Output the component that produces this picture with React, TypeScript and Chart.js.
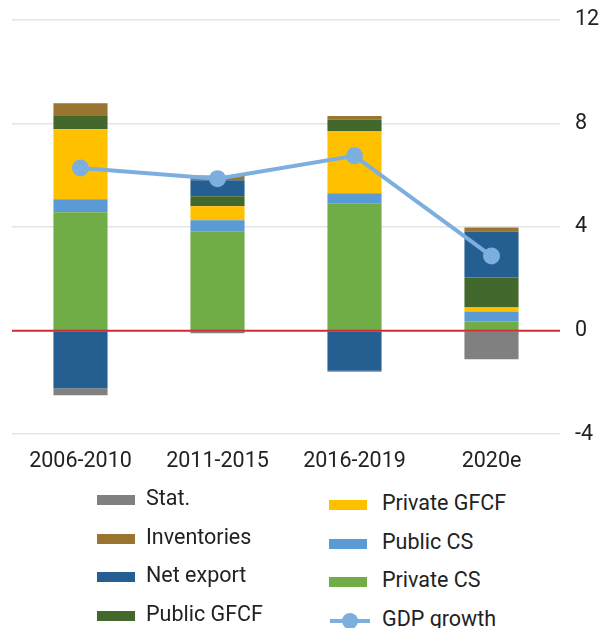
import React, { useEffect, useRef } from 'react';
import { Chart, registerables } from 'chart.js';

Chart.register(...registerables);

// ---- data ----
const categories = ['2006-2010', '2011-2015', '2016-2019', '2020e'];
const privateCS = [4.57, 3.82, 4.92, 0.35];
const publicCS = [0.5, 0.44, 0.39, 0.39];
const privateGFCF = [2.71, 0.54, 2.4, 0.15];
const publicGFCF = [0.54, 0.39, 0.43, 1.16];
const netExport = [-2.23, 0.62, -1.55, 1.78];
const inventories = [0.46, 0.18, 0.15, 0.15];
const stat = [-0.27, -0.1, -0.04, -1.11];
const gdpGrowth = [6.28, 5.87, 6.75, 2.88];
const yMin = -4;
const yMax = 12;
const yStep = 4;

// ---- styles ----
const COLORS = {
  privateCS: '#70AD47',
  publicCS: '#5B9BD5',
  privateGFCF: '#FFC000',
  publicGFCF: '#43682B',
  netExport: '#255E91',
  inventories: '#997530',
  stat: '#808080',
  gdp: '#7CAFDD',
  zero: '#CF2B33',
  grid: '#E4E4E4',
  text: '#222222',
};
const FONT = 'Roboto, "Noto Sans", sans-serif';
const FONT_SIZE = 21.5;

const barSeries = [
  { label: 'Private CS', data: privateCS, color: COLORS.privateCS },
  { label: 'Public CS', data: publicCS, color: COLORS.publicCS },
  { label: 'Private GFCF', data: privateGFCF, color: COLORS.privateGFCF },
  { label: 'Public GFCF', data: publicGFCF, color: COLORS.publicGFCF },
  { label: 'Net export', data: netExport, color: COLORS.netExport },
  { label: 'Inventories', data: inventories, color: COLORS.inventories },
  { label: 'Stat.', data: stat, color: COLORS.stat },
];

const legendLeft = ['Stat.', 'Inventories', 'Net export', 'Public GFCF'];
const legendRight = ['Private GFCF', 'Public CS', 'Private CS', 'GDP growth'];

const zeroLinePlugin = {
  id: 'zeroLine',
  afterDatasetsDraw(chart: any) {
    const y = chart.scales.y.getPixelForValue(0);
    const { left, right } = chart.chartArea;
    const ctx = chart.ctx;
    ctx.save();
    ctx.strokeStyle = COLORS.zero;
    ctx.lineWidth = 2;
    ctx.beginPath();
    ctx.moveTo(left, y);
    ctx.lineTo(right, y);
    ctx.stroke();
    ctx.restore();
  },
};

function colorFor(label: string) {
  if (label === 'GDP growth') return COLORS.gdp;
  const s = barSeries.find((b) => b.label === label);
  return s ? s.color : '#000';
}

function LegendItem({ label, x, y, gap }: { label: string; x: number; y: number; gap: number }) {
  const isLine = label === 'GDP growth';
  return (
    <div
      style={{
        position: 'absolute',
        left: x,
        top: y - 15,
        height: 30,
        display: 'flex',
        alignItems: 'center',
        whiteSpace: 'nowrap',
      }}
    >
      {isLine ? (
        <div style={{ position: 'relative', width: 40, height: 18, marginRight: 12 }}>
          <div
            style={{
              position: 'absolute',
              left: 0,
              top: 7,
              width: 40,
              height: 4,
              background: COLORS.gdp,
            }}
          />
          <div
            style={{
              position: 'absolute',
              left: 12,
              top: 1,
              width: 16,
              height: 16,
              borderRadius: 8,
              background: COLORS.gdp,
            }}
          />
        </div>
      ) : (
        <div style={{ width: 38, height: 10, background: colorFor(label), marginRight: gap }} />
      )}
      <span
        style={{
          fontFamily: FONT,
          fontSize: FONT_SIZE,
          color: COLORS.text,
          lineHeight: '30px',
          position: 'relative',
          top: -2,
        }}
      >
        {label}
      </span>
    </div>
  );
}

export default function App() {
  const canvasRef = useRef<HTMLCanvasElement | null>(null);

  useEffect(() => {
    if (!canvasRef.current) return;
    document.body.style.overflow = 'hidden';
    const datasets: any[] = barSeries.map((s) => ({
      type: 'bar',
      label: s.label,
      data: s.data,
      backgroundColor: s.color,
      borderWidth: 0,
      barPercentage: 0.395,
      categoryPercentage: 1,
      order: 1,
    }));
    datasets.push({
      type: 'line',
      label: 'GDP growth',
      data: gdpGrowth,
      borderColor: COLORS.gdp,
      backgroundColor: COLORS.gdp,
      borderWidth: 4,
      pointRadius: 8.5,
      pointHoverRadius: 8.5,
      pointBorderWidth: 0,
      pointBackgroundColor: COLORS.gdp,
      tension: 0,
      stack: 'gdp',
      order: 0,
    });

    const chart = new Chart(canvasRef.current, {
      type: 'bar',
      data: { labels: categories, datasets },
      options: {
        animation: false,
        responsive: true,
        maintainAspectRatio: false,
        layout: { padding: { left: 12, right: 2, top: 0, bottom: 5 } },
        plugins: {
          legend: { display: false },
          tooltip: { enabled: false },
        },
        scales: {
          x: {
            stacked: true,
            grid: { display: false },
            border: { display: false },
            ticks: {
              font: { family: FONT, size: FONT_SIZE },
              color: COLORS.text,
              padding: 7,
              maxRotation: 0,
            },
          },
          y: {
            stacked: true,
            position: 'right',
            min: yMin,
            max: yMax,
            border: { display: false },
            afterFit: (scale: any) => {
              scale.width = 41;
            },
            grid: {
              drawTicks: true,
              tickLength: 8,
              tickColor: 'rgba(0,0,0,0)',
              lineWidth: 1.5,
              color: (ctx: any) =>
                ctx.tick && ctx.tick.value === 0 ? 'rgba(0,0,0,0)' : COLORS.grid,
            },
            ticks: {
              stepSize: yStep,
              font: { family: FONT, size: FONT_SIZE },
              color: COLORS.text,
              padding: 7,
            },
          },
        },
      } as any,
      plugins: [zeroLinePlugin],
    });
    return () => chart.destroy();
  }, []);

  return (
    <div
      style={{
        position: 'absolute',
        left: 0,
        top: 0,
        width: 603,
        height: 628,
        overflow: 'hidden',
        background: '#fff',
      }}
    >
      <div style={{ position: 'absolute', left: 0, top: 0, width: 603, height: 487 }}>
        <canvas ref={canvasRef} />
      </div>
      {legendLeft.map((l, i) => (
        <LegendItem key={l} label={l} x={97} y={500 + i * 38.5} gap={11} />
      ))}
      {legendRight.map((l, i) => (
        <LegendItem key={l} label={l} x={l === 'GDP growth' ? 330 : 329} y={505 + i * 38.5} gap={15} />
      ))}
    </div>
  );
}
